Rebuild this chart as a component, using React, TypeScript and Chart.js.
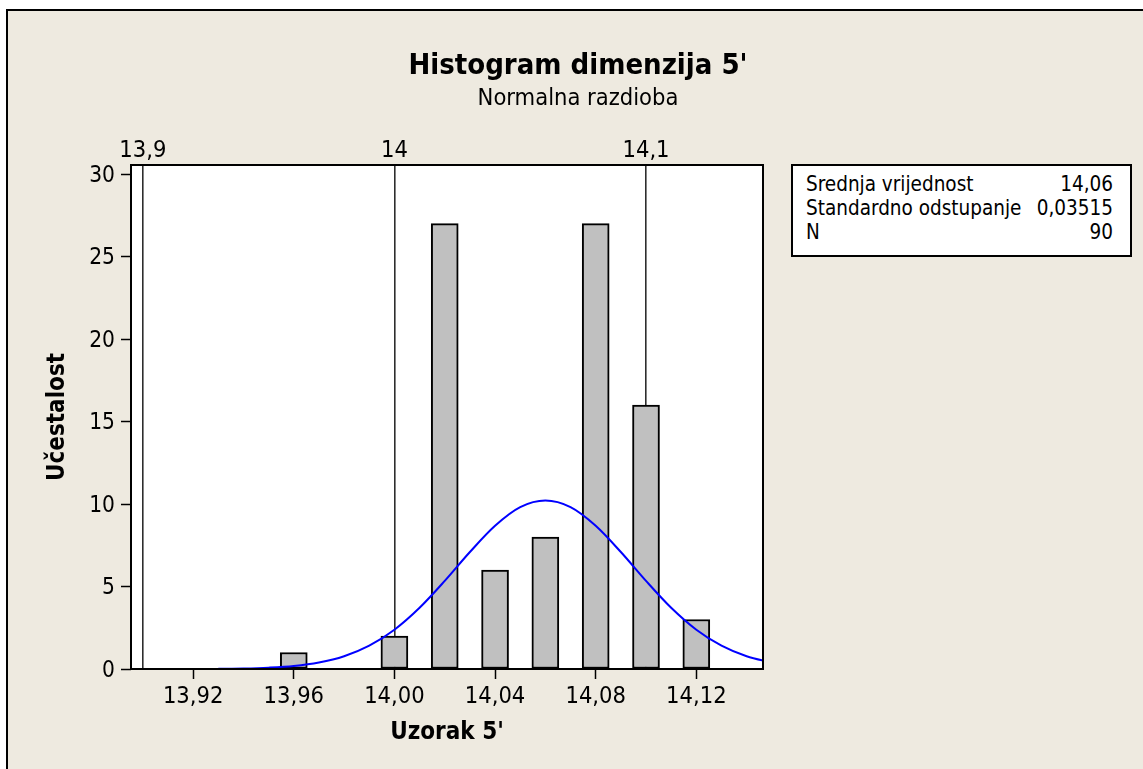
import React, { useEffect, useRef } from "react";
import { Chart, registerables } from "chart.js";

Chart.register(...registerables);

// ---- data ----
const binCenters = [13.96, 14.0, 14.02, 14.04, 14.06, 14.08, 14.1, 14.12];
const counts = [1, 2, 27, 6, 8, 27, 16, 3];

const curveX = [13.93, 13.94, 13.95, 13.96, 13.97, 13.98, 13.99, 14.0, 14.01, 14.02, 14.03, 14.04, 14.05, 14.06, 14.07, 14.08, 14.09, 14.1, 14.11, 14.12, 14.13, 14.14, 14.15];
const curveY = [0.01, 0.03, 0.08, 0.18, 0.39, 0.77, 1.41, 2.38, 3.71, 5.34, 7.09, 8.68, 9.81, 10.21, 9.81, 8.68, 7.09, 5.34, 3.71, 2.38, 1.41, 0.77, 0.39];

const xTicks = [13.92, 13.96, 14.0, 14.04, 14.08, 14.12];
const xTickLabels = ["13,92", "13,96", "14,00", "14,04", "14,08", "14,12"];
const yTicks = [0, 5, 10, 15, 20, 25, 30];
const refLines = [13.9, 14.0, 14.1];
const refLabels = ["13,9", "14", "14,1"];

const statNames = ["Srednja vrijednost", "Standardno odstupanje", "N"];
const statValues = ["14,06", "0,03515", "90"];

const titleText = "Histogram dimenzija 5'";
const subtitleText = "Normalna razdioba";
const xTitle = "Uzorak 5'";
const yTitle = "Učestalost";

const X_MIN = 13.8953;
const X_MAX = 14.1465;
const Y_MAX = 30.55;

// ---- style / layout constants ----
const FONT = "'DejaVu Sans Condensed', 'DejaVu Sans', sans-serif";
const BG = "#EEEAE0";
const CANVAS_W = 1140;
const CANVAS_H = 758;
const PLOT_LEFT = 123;
const PLOT_TOP = 154;
const PLOT_RIGHT = 755;
const PLOT_BOTTOM = 658;
const TITLE_SIZE = 29;
const TITLE_PAD = 38;
const SUB_SIZE = 23.5;
const SUB_PAD = 1;
const TOP_AXIS_H = PLOT_TOP - (TITLE_PAD + TITLE_SIZE * 1.2 + SUB_PAD + SUB_SIZE * 1.2);

const plotFrame = {
  id: "plotFrame",
  beforeDraw(chart: any) {
    const { ctx, chartArea } = chart;
    ctx.save();
    ctx.fillStyle = "#ffffff";
    ctx.fillRect(chartArea.left, chartArea.top, chartArea.right - chartArea.left, chartArea.bottom - chartArea.top);
    ctx.restore();
  },
  afterDatasetsDraw(chart: any) {
    const { ctx, chartArea } = chart;
    ctx.save();
    ctx.strokeStyle = "#000000";
    ctx.lineWidth = 2;
    ctx.strokeRect(chartArea.left, chartArea.top, chartArea.right - chartArea.left, chartArea.bottom - chartArea.top);
    ctx.restore();
  },
};

function HistogramChart() {
  const ref = useRef<HTMLCanvasElement | null>(null);

  useEffect(() => {
    if (!ref.current) return;
    const chart = new Chart(ref.current, {
      type: "bar",
      data: {
        datasets: [
          {
            type: "line",
            label: "Normalna",
            data: curveX.map((x, i) => ({ x, y: curveY[i] })),
            borderColor: "#0000FF",
            borderWidth: 2,
            pointRadius: 0,
            cubicInterpolationMode: "monotone",
            fill: false,
            order: 0,
            xAxisID: "x",
            yAxisID: "y",
          } as any,
          {
            type: "bar",
            label: "Uzorak 5'",
            data: binCenters.map((x, i) => ({ x, y: counts[i] })),
            backgroundColor: "#C0C0C0",
            borderColor: "#000000",
            borderWidth: 2,
            borderSkipped: false,
            barThickness: 27,
            order: 1,
            xAxisID: "x",
            yAxisID: "y",
          } as any,
        ],
      },
      options: {
        animation: false,
        responsive: false,
        events: [],
        layout: { padding: 0 },
        plugins: {
          legend: { display: false },
          tooltip: { enabled: false },
          title: {
            display: true,
            text: titleText,
            color: "#000",
            font: { family: FONT, size: TITLE_SIZE, weight: "bold" },
            padding: { top: TITLE_PAD, bottom: 0 },
          },
          subtitle: {
            display: true,
            text: subtitleText,
            color: "#000",
            font: { family: FONT, size: SUB_SIZE, weight: "normal" },
            padding: { top: SUB_PAD, bottom: 0 },
          },
        },
        scales: {
          x: {
            type: "linear",
            position: "bottom",
            min: X_MIN,
            max: X_MAX,
            offset: false,
            afterBuildTicks: (scale: any) => {
              scale.ticks = xTicks.map((v) => ({ value: v }));
            },
            afterFit: (scale: any) => {
              scale.height = CANVAS_H - PLOT_BOTTOM;
            },
            ticks: {
              autoSkip: false,
              maxRotation: 0,
              padding: 4,
              color: "#000",
              font: { family: FONT, size: 23.5 },
              callback: (_v: any, i: number) => xTickLabels[i],
            },
            grid: {
              offset: false,
              drawOnChartArea: false,
              drawTicks: true,
              tickLength: 10,
              tickWidth: 1.5,
              tickColor: "#000",
              color: "#000",
            },
            border: { display: false },
            title: {
              display: true,
              text: xTitle,
              color: "#000",
              font: { family: FONT, size: 24, weight: "bold" },
              padding: { top: 0, bottom: 22 },
            },
          },
          x2: {
            type: "linear",
            position: "top",
            min: X_MIN,
            max: X_MAX,
            offset: false,
            afterBuildTicks: (scale: any) => {
              scale.ticks = refLines.map((v) => ({ value: v }));
            },
            afterFit: (scale: any) => {
              scale.height = TOP_AXIS_H;
            },
            ticks: {
              autoSkip: false,
              maxRotation: 0,
              padding: 0,
              color: "#000",
              font: { family: FONT, size: 23.5 },
              callback: (_v: any, i: number) => refLabels[i],
            },
            grid: {
              offset: false,
              drawOnChartArea: true,
              drawTicks: false,
              color: "#2e2e2e",
              lineWidth: 1.6,
            },
            border: { display: false },
          },
          y: {
            type: "linear",
            position: "left",
            min: 0,
            max: Y_MAX,
            afterBuildTicks: (scale: any) => {
              scale.ticks = yTicks.map((v) => ({ value: v }));
            },
            afterFit: (scale: any) => {
              scale.width = PLOT_LEFT;
            },
            ticks: {
              padding: 6,
              labelOffset: 2,
              color: "#000",
              font: { family: FONT, size: 22.5 },
              callback: (v: any) => String(v),
            },
            grid: {
              drawOnChartArea: false,
              drawTicks: true,
              tickLength: 10,
              tickWidth: 1.5,
              tickColor: "#000",
              color: "#000",
            },
            border: { display: false },
            title: {
              display: true,
              text: yTitle,
              color: "#000",
              font: { family: FONT, size: 24, weight: "bold" },
              padding: { top: 35.5, bottom: 0 },
            },
          },
          yRight: {
            type: "linear",
            position: "right",
            display: true,
            afterFit: (scale: any) => {
              scale.width = CANVAS_W - PLOT_RIGHT;
            },
            ticks: { display: false },
            grid: { display: false, drawTicks: false },
            border: { display: false },
          },
        },
      } as any,
      plugins: [plotFrame],
    });
    return () => chart.destroy();
  }, []);

  return (
    <canvas
      ref={ref}
      width={CANVAS_W}
      height={CANVAS_H}
      style={{ position: "absolute", left: 8, top: 11, width: CANVAS_W, height: CANVAS_H }}
    />
  );
}

function StatsBox() {
  return (
    <div
      style={{
        position: "absolute",
        left: 791,
        top: 164,
        width: 341,
        height: 93,
        boxSizing: "border-box",
        border: "2px solid #000",
        background: "#fff",
        padding: "6px 17px 0 13px",
        fontFamily: FONT,
        fontSize: 20.5,
        lineHeight: "24px",
        color: "#000",
        whiteSpace: "nowrap",
      }}
    >
      {statNames.map((n, i) => (
        <div key={n} style={{ display: "flex", justifyContent: "space-between" }}>
          <span>{n}</span>
          <span>{statValues[i]}</span>
        </div>
      ))}
    </div>
  );
}

export default function App() {
  return (
    <div style={{ position: "fixed", inset: 0, overflow: "hidden", background: "#fff" }}>
      <div
        style={{
          position: "absolute",
          left: 6,
          top: 9,
          width: 1200,
          height: 800,
          border: "2px solid #000",
          background: BG,
        }}
      />
      <HistogramChart />
      <StatsBox />
    </div>
  );
}
